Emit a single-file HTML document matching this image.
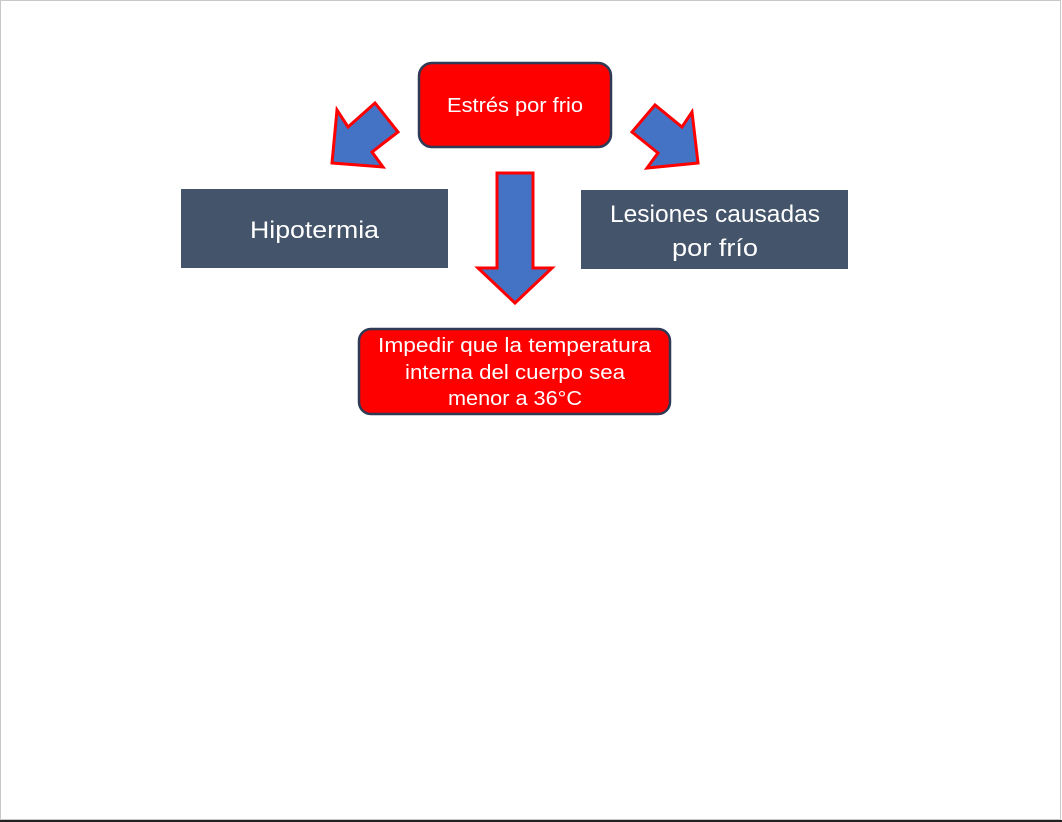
<!DOCTYPE html>
<html><head><meta charset="utf-8"><style>
html,body{margin:0;padding:0;background:#fff;}
body{width:1062px;height:822px;overflow:hidden;position:relative;font-family:"Liberation Sans",sans-serif;}
</style></head><body>
<svg width="1062" height="822" viewBox="0 0 1062 822" xmlns="http://www.w3.org/2000/svg" style="position:absolute;left:0;top:0">
<rect x="0.5" y="0.5" width="1060" height="819" fill="#fff" stroke="#c8c8c8" stroke-width="1"/>
<rect x="0" y="820" width="1062" height="2" fill="#222"/>
<rect x="419" y="63" width="192" height="84" rx="13" fill="#ff0000" stroke="#2f3a55" stroke-width="2.5"/>
<text x="447" y="112" fill="#fff" font-size="20" textLength="136" lengthAdjust="spacingAndGlyphs">Estrés por frio</text>
<polygon points="337,110 348,127 375,103 398,132 372,152 383,167 332,163" fill="#4472c4" stroke="#ff0000" stroke-width="3" stroke-linejoin="miter"/>
<polygon points="692,112 682,127 655,105 632,132 658,153 647,168 698,163" fill="#4472c4" stroke="#ff0000" stroke-width="3" stroke-linejoin="miter"/>
<polygon points="497,173 533,173 533,268 552,268 515,303 478,268 497,268" fill="#4472c4" stroke="#ff0000" stroke-width="3" stroke-linejoin="miter"/>
<rect x="181" y="189" width="267" height="79" fill="#44546a"/>
<text x="250" y="238" fill="#fff" font-size="24" textLength="129" lengthAdjust="spacingAndGlyphs">Hipotermia</text>
<rect x="581" y="190" width="267" height="79" fill="#44546a"/>
<text x="610" y="222" fill="#fff" font-size="24" textLength="210" lengthAdjust="spacingAndGlyphs">Lesiones causadas</text>
<text x="672" y="256" fill="#fff" font-size="24" textLength="86" lengthAdjust="spacingAndGlyphs">por frío</text>
<rect x="359" y="329" width="311" height="85" rx="12" fill="#ff0000" stroke="#2f3a55" stroke-width="2.5"/>
<text x="378" y="352" fill="#fff" font-size="20" textLength="273" lengthAdjust="spacingAndGlyphs">Impedir que la temperatura</text>
<text x="405" y="379" fill="#fff" font-size="20" textLength="220" lengthAdjust="spacingAndGlyphs">interna del cuerpo sea</text>
<text x="448" y="405" fill="#fff" font-size="20" textLength="134" lengthAdjust="spacingAndGlyphs">menor a 36°C</text>
</svg>
</body></html>
